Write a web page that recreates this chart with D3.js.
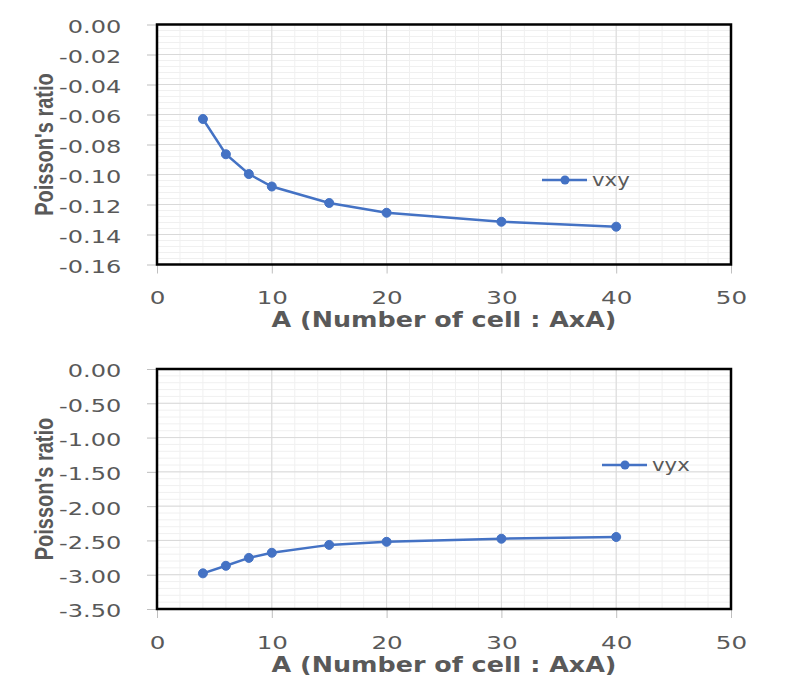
<!DOCTYPE html>
<html>
<head>
<meta charset="utf-8">
<script src="https://cdn.jsdelivr.net/npm/d3@7"></script>
<style>
  html, body { margin: 0; padding: 0; background: #ffffff; }
  svg { display: block; }
</style>
</head>
<body>
<script>
// ---- data ----
const cellCounts = [4, 6, 8, 10, 15, 20, 30, 40];
const vxyValues = [-0.063, -0.0865, -0.0997, -0.108, -0.119, -0.1255, -0.1315, -0.1348];
const vyxValues = [-2.98, -2.87, -2.755, -2.68, -2.565, -2.52, -2.475, -2.45];
const xTickValues = [0, 10, 20, 30, 40, 50];
const vxyTickValues = [0, -0.02, -0.04, -0.06, -0.08, -0.10, -0.12, -0.14, -0.16];
const vyxTickValues = [0, -0.5, -1.0, -1.5, -2.0, -2.5, -3.0, -3.5];
const seriesNames = ["vxy", "vyx"];
const xTitle = "A (Number of cell : AxA)";
const yTitle = "Poisson's ratio";

// ---- styles ----
const W = 788, H = 685;
const blue = "#4472C4";
const textGrey = "#595959";
const tickFont = "'DejaVu Sans', sans-serif";
const fmt2 = d3.formatLocale({ decimal: ".", thousands: ",", grouping: [3], currency: ["", ""], minus: "-" }).format(".2f");

const svg = d3.select("body").append("svg").attr("width", W).attr("height", H);
svg.append("rect").attr("width", W).attr("height", H).attr("fill", "#fff");

function drawChart(cfg) {
  const x = d3.scaleLinear().domain([0, 50]).range([157, 731]);
  const y = d3.scaleLinear().domain([cfg.yMin, 0]).range([cfg.bottom, cfg.top]);
  const g = svg.append("g");

  // minor grid
  const xMinor = d3.range(0, 50.0001, 2);
  const yMinor = d3.range(0, cfg.yMin - 1e-9, -cfg.minorStep);
  g.append("g").selectAll("line").data(xMinor).join("line")
    .attr("x1", d => x(d)).attr("x2", d => x(d))
    .attr("y1", cfg.top).attr("y2", cfg.bottom)
    .attr("stroke", "#f0f0f0").attr("stroke-width", 1);
  g.append("g").selectAll("line").data(yMinor).join("line")
    .attr("x1", 157).attr("x2", 731)
    .attr("y1", d => y(d)).attr("y2", d => y(d))
    .attr("stroke", "#f0f0f0").attr("stroke-width", 1);
  // major grid
  g.append("g").selectAll("line").data(xTickValues).join("line")
    .attr("x1", d => x(d)).attr("x2", d => x(d))
    .attr("y1", cfg.top).attr("y2", cfg.bottom)
    .attr("stroke", "#d9d9d9").attr("stroke-width", 1);
  g.append("g").selectAll("line").data(cfg.ticks).join("line")
    .attr("x1", 157).attr("x2", 731)
    .attr("y1", d => y(d)).attr("y2", d => y(d))
    .attr("stroke", "#d9d9d9").attr("stroke-width", 1);

  // axes
  const ax = g.append("g").attr("transform", `translate(157,0)`)
    .call(d3.axisLeft(y).tickValues(cfg.ticks).tickSize(10).tickFormat(fmt2));
  ax.select(".domain").remove();
  ax.selectAll(".tick line").attr("stroke", "#bfbfbf");
  ax.selectAll(".tick text")
    .attr("x", -27.5).attr("dy", "0.43em")
    .attr("transform", "scale(1.3,1)")
    .attr("fill", textGrey).attr("font-family", tickFont).attr("font-size", 18.5);

  const bx = g.append("g").attr("transform", `translate(0,${cfg.bottom})`)
    .call(d3.axisBottom(x).tickValues(xTickValues).tickSize(9).tickFormat(d3.format("d")));
  bx.select(".domain").remove();
  bx.selectAll(".tick line").attr("stroke", "#bfbfbf");
  bx.selectAll(".tick text")
    .attr("y", 40).attr("dy", 0)
    .attr("transform", "scale(1.33,1)")
    .attr("fill", textGrey).attr("font-family", tickFont).attr("font-size", 18.5);

  // plot border
  g.append("rect").attr("x", 157).attr("y", cfg.top)
    .attr("width", 731 - 157).attr("height", cfg.bottom - cfg.top)
    .attr("fill", "none").attr("stroke", "#000").attr("stroke-width", 2.5);

  // series
  const pts = cellCounts.map((c, i) => [c, cfg.values[i]]);
  g.append("path").datum(pts)
    .attr("d", d3.line().x(d => x(d[0])).y(d => y(d[1])))
    .attr("fill", "none").attr("stroke", blue).attr("stroke-width", 2.5);
  g.append("g").selectAll("circle").data(pts).join("circle")
    .attr("cx", d => x(d[0])).attr("cy", d => y(d[1])).attr("r", 4.5)
    .attr("fill", blue).attr("stroke", blue).attr("stroke-width", 1);

  // legend
  const lg = g.append("g").attr("transform", `translate(${cfg.legendX},${cfg.legendY})`);
  lg.append("line").attr("x1", 0).attr("x2", 45).attr("y1", 0).attr("y2", 0)
    .attr("stroke", blue).attr("stroke-width", 2.5);
  lg.append("circle").attr("cx", 23).attr("cy", 0).attr("r", 4.5).attr("fill", blue);
  lg.append("text").attr("transform", "translate(50,6) scale(1.15,1)")
    .attr("fill", textGrey).attr("font-family", tickFont).attr("font-size", 18.5)
    .text(cfg.name);

  // titles
  g.append("text")
    .attr("transform", `translate(444,${cfg.bottom + 62.5}) scale(1.21,1)`)
    .attr("text-anchor", "middle")
    .attr("fill", textGrey).attr("font-family", "'DejaVu Sans', sans-serif")
    .attr("font-weight", "bold").attr("font-size", 21)
    .text(xTitle);
  g.append("text")
    .attr("transform", `translate(53,${(cfg.top + cfg.bottom) / 2}) scale(1.3,1) rotate(-90)`)
    .attr("text-anchor", "middle")
    .attr("fill", textGrey).attr("font-family", "'Liberation Sans', Arial, sans-serif")
    .attr("font-weight", "bold").attr("font-size", 20)
    .text(yTitle);
}

drawChart({ top: 24.5, bottom: 264.5, yMin: -0.16, minorStep: 0.004,
  ticks: vxyTickValues, values: vxyValues, name: seriesNames[0],
  legendX: 542, legendY: 180 });
drawChart({ top: 369, bottom: 609, yMin: -3.5, minorStep: 0.1,
  ticks: vyxTickValues, values: vyxValues, name: seriesNames[1],
  legendX: 602, legendY: 465 });
</script>
</body>
</html>
